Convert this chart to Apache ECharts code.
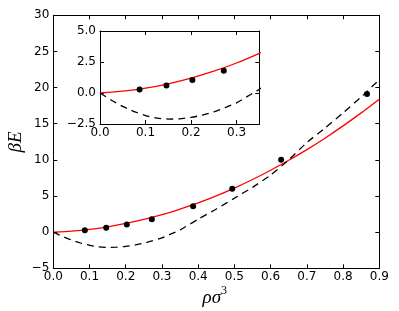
<!DOCTYPE html>
<html><head><meta charset="utf-8">
<script src="https://cdn.jsdelivr.net/npm/echarts@6/dist/echarts.min.js"></script>
<style>html,body{margin:0;padding:0;background:#fff}#c{width:399px;height:311px}</style>
</head><body><div id="c"></div>
<script>
// Data
var redX = [0,0.05,0.1,0.15,0.2,0.25,0.3,0.35,0.4,0.45,0.5,0.55,0.6,0.65,0.7,0.75,0.8,0.85,0.9];
var redY = [0,0.145,0.39,0.745,1.2,1.76,2.42,3.2,4.06,5.03,6.1,7.28,8.56,9.94,11.42,13.0,14.7,16.5,18.4];
var dashX = [0,0.025,0.05,0.075,0.1,0.125,0.15,0.175,0.2,0.225,0.25,0.275,0.3,0.325,0.35,0.4,0.45,0.5,0.55,0.6,0.65,0.7,0.75,0.8,0.85,0.9];
var dashY = [0,-0.58,-1.08,-1.5,-1.82,-2.02,-2.1,-2.08,-1.97,-1.78,-1.52,-1.18,-0.8,-0.25,0.3,1.8,3.2,4.7,6.2,7.9,10.0,12.4,14.4,16.5,18.7,21.1];
var dotX = [0.087,0.146,0.203,0.272,0.386,0.494,0.629,0.866];
var dotY = [0.28,0.6,1.05,1.8,3.58,6.0,10.03,19.1];
var mainXTicks = [0,0.9,0.1];
var mainYTicks = [-5,30,5];
var insetXTicks = [0,0.35,0.1];
var insetYTicks = [-2.5,5,2.5];

function pairs(xs, ys){ return xs.map(function(x,i){return [x, ys[i]];}); }
function fmt(d){ return function(v){ var s = d ? v.toFixed(d) : String(Math.round(v)); return s.replace('-', '\u2212'); }; }
var FONT = 'DejaVu Sans';
function xAx(gi, t, pos, lab, d, z, showMax){
  return {type:'value', gridIndex:gi, position:pos, min:t[0], max:t[1], interval:t[2], z:z,
    axisLine:{show:true, onZero:false, lineStyle:{color:'#000', width:1}},
    axisTick:{show:true, inside:true, length:4, lineStyle:{color:'#000'}},
    axisLabel:{show:lab, color:'#000', fontFamily:FONT, fontSize:12, margin:3, showMaxLabel:showMax, formatter:fmt(d)},
    splitLine:{show:false}};
}
function yAx(gi, t, pos, lab, d, z){
  return {type:'value', gridIndex:gi, position:pos, min:t[0], max:t[1], interval:t[2], z:z,
    axisLine:{show:true, onZero:false, lineStyle:{color:'#000', width:1}},
    axisTick:{show:true, inside:true, length:4, lineStyle:{color:'#000'}},
    axisLabel:{show:lab, color:'#000', fontFamily:FONT, fontSize:12, margin:4, formatter:fmt(d)},
    splitLine:{show:false}};
}
var chart = echarts.init(document.getElementById('c'), null, {renderer:'canvas'});
var redLine = {color:'#ff0000', width:1.3};
var dashLine = {color:'#000', width:1.3, type:[7,5]};
var dotStyle = {color:'#000', opacity:1};
chart.setOption({
  animation:false,
  backgroundColor:'#fff',
  grid:[
    {left:53.3, top:15.3, width:326, height:253, z:0},
    {left:100, top:31, width:159.3, height:93, show:true, backgroundColor:'#fff', borderWidth:0, z:10}
  ],
  xAxis:[
    xAx(0, mainXTicks, 'bottom', true, 1, 1, true),
    xAx(0, mainXTicks, 'top', false, 1, 1, true),
    xAx(1, insetXTicks, 'bottom', true, 1, 11, false),
    xAx(1, insetXTicks, 'top', false, 1, 11, false)
  ],
  yAxis:[
    yAx(0, mainYTicks, 'left', true, 0, 1),
    yAx(0, mainYTicks, 'right', false, 0, 1),
    yAx(1, insetYTicks, 'left', true, 1, 11),
    yAx(1, insetYTicks, 'right', false, 1, 11)
  ],
  series:[
    {type:'line', xAxisIndex:0, yAxisIndex:0, data:pairs(redX, redY), symbol:'none', smooth:0.2, lineStyle:redLine, z:2},
    {type:'line', xAxisIndex:0, yAxisIndex:0, data:pairs(dashX, dashY), symbol:'none', smooth:0.2, lineStyle:dashLine, z:2},
    {type:'scatter', xAxisIndex:0, yAxisIndex:0, data:pairs(dotX, dotY), symbol:'circle', symbolSize:6, itemStyle:dotStyle, z:3},
    {type:'line', xAxisIndex:2, yAxisIndex:2, data:pairs(redX, redY), symbol:'none', smooth:0.2, lineStyle:redLine, clip:true, z:12},
    {type:'line', xAxisIndex:2, yAxisIndex:2, data:pairs(dashX, dashY), symbol:'none', smooth:0.2, lineStyle:dashLine, clip:true, z:12},
    {type:'scatter', xAxisIndex:2, yAxisIndex:2, data:pairs(dotX, dotY), symbol:'circle', symbolSize:6, itemStyle:dotStyle, clip:true, z:13}
  ],
  graphic:[
    {type:'text', x:16, y:142, rotation:Math.PI/2, style:{text:'\u03b2E', fontFamily:'Liberation Serif', fontStyle:'italic', fontSize:19, fill:'#000', align:'center', verticalAlign:'middle'}},
    {type:'text', x:221, y:298, style:{text:'\u03c1\u03c3', fontFamily:'Liberation Serif', fontStyle:'italic', fontSize:19, fill:'#000', align:'right', verticalAlign:'middle'}},
    {type:'text', x:221, y:291, style:{text:'3', fontFamily:'Liberation Serif', fontSize:12, fill:'#000', align:'left', verticalAlign:'middle'}}
  ]
});
</script></body></html>
